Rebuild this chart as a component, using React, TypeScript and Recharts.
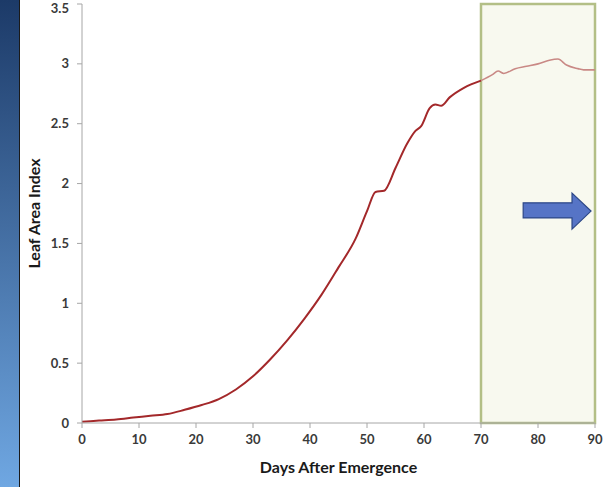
import React from "react";
import { LineChart, Line, XAxis, YAxis, ReferenceArea } from "recharts";

// days after emergence and leaf area index
const days = [0, 3, 6, 9, 12, 15, 18, 21, 24, 27, 30, 33, 36, 39, 42, 45, 48, 50, 51.5, 53, 55, 57, 58.5, 59.5, 61, 62, 63, 64.5, 67, 70, 72, 73, 74, 76, 78, 80, 82, 83.5, 85, 87, 88, 90];
const lai = [0.01, 0.02, 0.03, 0.045, 0.06, 0.075, 0.11, 0.15, 0.2, 0.28, 0.39, 0.53, 0.69, 0.87, 1.07, 1.3, 1.54, 1.77, 1.93, 1.94, 2.13, 2.33, 2.44, 2.48, 2.63, 2.66, 2.65, 2.72, 2.8, 2.86, 2.91, 2.94, 2.92, 2.96, 2.98, 3.0, 3.03, 3.04, 2.99, 2.96, 2.95, 2.95];

const xTicks = [0, 10, 20, 30, 40, 50, 60, 70, 80, 90];
const yTicks = [0, 0.5, 1, 1.5, 2, 2.5, 3, 3.5];

// highlighted window and arrow annotation
const windowStart = 70;
const windowEnd = 90;
const arrowX = [77.4, 89.3];
const arrowY = [1.62, 1.92];

const data = days.map((d, i) => ({
  day: d,
  early: d <= windowStart ? lai[i] : null,
  late: d >= windowStart ? lai[i] : null,
}));

const tickStyle = { fontFamily: "Lato", fontSize: 13, fontWeight: 700, fill: "#3a3a3a" };
const titleStyle = { fontFamily: "Lato", fontSize: 16, fontWeight: 700, fill: "#1a1a1a" };

const ArrowShape = (props: any) => {
  const { x, y, width, height } = props;
  const bodyTop = y + height * 0.27;
  const bodyBot = y + height * 0.69;
  const headX = x + width * 0.72;
  const pts = [
    [x, bodyTop],
    [headX, bodyTop],
    [headX, y],
    [x + width, y + height / 2],
    [headX, y + height],
    [headX, bodyBot],
    [x, bodyBot],
  ]
    .map((p) => p.join(","))
    .join(" ");
  return <polygon points={pts} fill="#5674c6" stroke="#2c4787" strokeWidth={1.2} />;
};

export default function App() {
  return (
    <div style={{ position: "fixed", left: 0, top: 0, width: 603, height: 487, background: "#ffffff" }}>
      <div
        style={{
          position: "absolute",
          left: 0,
          top: 0,
          width: 19,
          height: 487,
          background: "linear-gradient(#1c3a68, #6fa7e2)",
          borderRight: "1.5px solid #1a1a1a",
        }}
      />
      <LineChart width={603} height={487} data={data} margin={{ top: 4, right: 8, bottom: 0, left: 22 }}>
        <ReferenceArea
          x1={windowStart}
          x2={windowEnd}
          y1={0}
          y2={3.5}
          fill="#f8f9ef"
          fillOpacity={1}
          stroke="#b3bf86"
          strokeWidth={2.5}
        />
        <XAxis
          dataKey="day"
          type="number"
          domain={[0, 90]}
          ticks={xTicks}
          stroke="#a6a6a6"
          tickSize={5}
          tickMargin={7}
          tick={tickStyle}
          height={64}
          label={{
            value: "Days After Emergence",
            position: "insideBottom",
            offset: 14,
            style: titleStyle,
          }}
        />
        <YAxis
          type="number"
          domain={[0, 3.5]}
          ticks={yTicks}
          stroke="#a6a6a6"
          tickSize={5}
          tickMargin={8}
          tick={tickStyle}
          width={60}
          label={{
            value: "Leaf Area Index",
            angle: -90,
            position: "insideLeft",
            offset: 12,
            style: { ...titleStyle, textAnchor: "middle" },
          }}
        />
        <Line
          type="monotone"
          dataKey="early"
          stroke="#a3282a"
          strokeWidth={2}
          dot={false}
          connectNulls={false}
          isAnimationActive={false}
        />
        <Line
          type="monotone"
          dataKey="late"
          stroke="#c98985"
          strokeWidth={1.6}
          dot={false}
          connectNulls={false}
          isAnimationActive={false}
        />
        <ReferenceArea
          x1={arrowX[0]}
          x2={arrowX[1]}
          y1={arrowY[0]}
          y2={arrowY[1]}
          shape={<ArrowShape />}
        />
      </LineChart>
    </div>
  );
}
